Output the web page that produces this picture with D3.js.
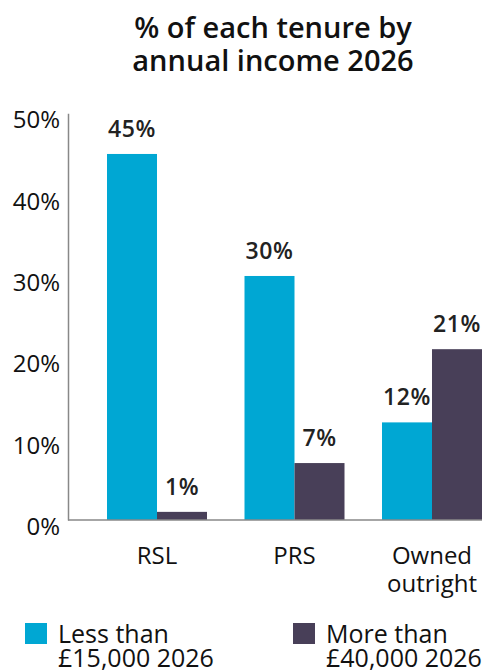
<!DOCTYPE html>
<html>
<head>
<meta charset="utf-8">
<script src="https://cdn.jsdelivr.net/npm/d3@7"></script>
<style>
  body { margin: 0; background: #fff; }
  svg text { font-family: "Open Sans", Lato, sans-serif; fill: #111; }
</style>
</head>
<body>
<svg id="chart" width="492" height="670"></svg>
<script>
// Tenure categories and share of each income band
const categories = ["RSL", "PRS", "Owned outright"];
const categoryLines = [["RSL"], ["PRS"], ["Owned", "outright"]];
const seriesNames = ["Less than £15,000 2026", "More than £40,000 2026"];
const legendLines = [["Less than", "£15,000 2026"], ["More than", "£40,000 2026"]];
const lowIncome = [45, 30, 12];
const highIncome = [1, 7, 21];
const yTicks = [0, 10, 20, 30, 40, 50];
const colors = ["#00A7D3", "#483F58"];

const series = [lowIncome, highIncome];

const svg = d3.select("#chart");

// Title
const title = svg.append("text")
  .attr("text-anchor", "middle")
  .style("font-weight", "600")
  .style("font-size", "29px");
title.append("tspan").attr("x", 273).attr("y", 38).text("% of each tenure by");
title.append("tspan").attr("x", 273).attr("y", 71).text("annual income 2026");

// Scales
const y = d3.scaleLinear().domain([0, 50]).range([520, 113.3]);
const x0 = d3.scaleBand()
  .domain(categories)
  .range([88.25, 500.75])
  .paddingInner(0.2727)
  .paddingOuter(0.1364);
const x1 = d3.scaleBand()
  .domain([0, 1])
  .range([0, x0.bandwidth()]);

// Bars
const groups = svg.append("g").selectAll("g")
  .data(categories)
  .join("g")
  .attr("transform", d => `translate(${x0(d)},0)`);

groups.selectAll("rect")
  .data((d, i) => series.map((s, j) => ({ j, v: s[i] })))
  .join("rect")
  .attr("x", d => x1(d.j))
  .attr("width", x1.bandwidth())
  .attr("y", d => y(d.v))
  .attr("height", d => y(0) - y(d.v))
  .attr("fill", d => colors[d.j]);

// Value labels
groups.selectAll("text.val")
  .data((d, i) => series.map((s, j) => ({ j, v: s[i] })))
  .join("text")
  .attr("class", "val")
  .attr("x", d => x1(d.j) + x1.bandwidth() / 2)
  .attr("y", d => y(d.v) - 17)
  .attr("text-anchor", "middle")
  .style("font-weight", "600")
  .style("font-size", "23px")
  .style("letter-spacing", "0.6px")
  .style("fill", "#222")
  .text(d => d.v + "%");

// Y axis
const yAxis = svg.append("g")
  .attr("transform", "translate(68,0)")
  .call(d3.axisLeft(y).tickValues(yTicks).tickSize(0).tickPadding(8).tickFormat(d => d + "%"));
yAxis.select(".domain").attr("stroke", "#888").attr("stroke-width", 1.5);
yAxis.selectAll("text")
  .attr("dy", "14.5")
  .style("font-size", "24px")
  .style("font-family", "'Open Sans', Lato, sans-serif")
  .style("fill", "#111");

// X baseline
const xAxis = svg.append("g")
  .attr("transform", "translate(0,520)")
  .call(d3.axisBottom(x0).tickSize(0).tickFormat(""));
xAxis.select(".domain")
  .attr("d", "M68,0H482")
  .attr("stroke", "#888")
  .attr("stroke-width", 1.5);

// Category labels
categories.forEach((c, i) => {
  categoryLines[i].forEach((line, k) => {
    svg.append("text")
      .attr("text-anchor", "middle")
      .style("font-size", "24px")
      .attr("x", x0(c) + x0.bandwidth() / 2)
      .attr("y", 564 + k * 28)
      .text(line);
  });
});

// Legend
const legendX = [25, 293];
seriesNames.forEach((name, i) => {
  const g = svg.append("g").attr("transform", `translate(${legendX[i]},623)`);
  g.append("rect").attr("width", 22).attr("height", 21).attr("fill", colors[i]);
  legendLines[i].forEach((line, k) => {
    g.append("text")
      .style("font-size", "25px")
      .attr("x", 33)
      .attr("y", 20 + k * 24)
      .text(line);
  });
});
</script>
</body>
</html>
